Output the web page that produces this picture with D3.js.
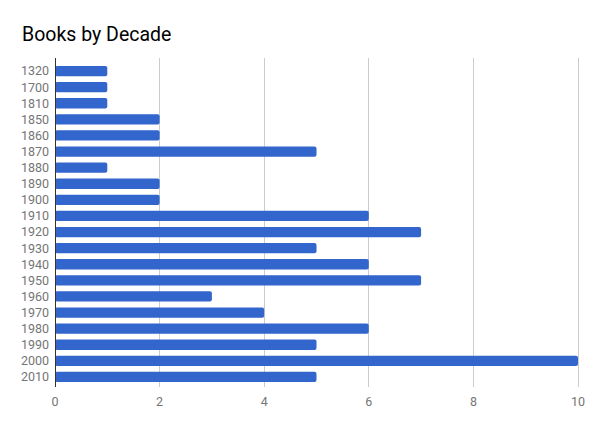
<!DOCTYPE html>
<html><head><meta charset="utf-8">
<script src="https://cdn.jsdelivr.net/npm/d3@7"></script>
<style>body{margin:0;background:#fff;font-family:Roboto,Arial,sans-serif}</style>
</head><body><svg id="c" width="600" height="430"></svg>
<script>
const decades = ["1320","1700","1810","1850","1860","1870","1880","1890","1900","1910","1920","1930","1940","1950","1960","1970","1980","1990","2000","2010"];
const books = [1,1,1,2,2,5,1,2,2,6,7,5,6,7,3,4,6,5,10,5];
const xTicks = [0,2,4,6,8,10];

const svg = d3.select("#c");
const x = d3.scaleLinear().domain([0,10]).range([55,578]);
const y = d3.scaleBand().domain(decades).range([63,385]).paddingInner(0.36).paddingOuter(0.18);

svg.append("text").attr("x",22).attr("y",41).attr("font-size",19.5).attr("fill","#000").text("Books by Decade");

svg.append("g").selectAll("line").data(xTicks.filter(d=>d>0)).join("line")
  .attr("x1",d=>x(d)).attr("x2",d=>x(d)).attr("y1",58).attr("y2",387)
  .attr("stroke","#cccccc").attr("stroke-width",1).attr("shape-rendering","crispEdges");

svg.append("g").selectAll("rect").data(decades).join("rect")
  .attr("x",x(0)).attr("y",d=>y(d)).attr("height",y.bandwidth())
  .attr("width",(d,i)=>x(books[i])-x(0)).attr("rx",2).attr("fill","#3366cc");

svg.append("line").attr("x1",x(0)).attr("x2",x(0)).attr("y1",58).attr("y2",387)
  .attr("stroke","#333").attr("stroke-width",1).attr("shape-rendering","crispEdges");

svg.append("g").selectAll("text").data(decades).join("text")
  .attr("x",49).attr("y",d=>y(d)+y.bandwidth()/2).attr("dy","0.35em")
  .attr("text-anchor","end").attr("font-size",12.5).attr("fill","#757575").text(d=>d);

svg.append("g").selectAll("text").data(xTicks).join("text")
  .attr("x",d=>x(d)).attr("y",406).attr("text-anchor","middle")
  .attr("font-size",12.5).attr("fill","#757575").text(d=>d);
</script></body></html>
